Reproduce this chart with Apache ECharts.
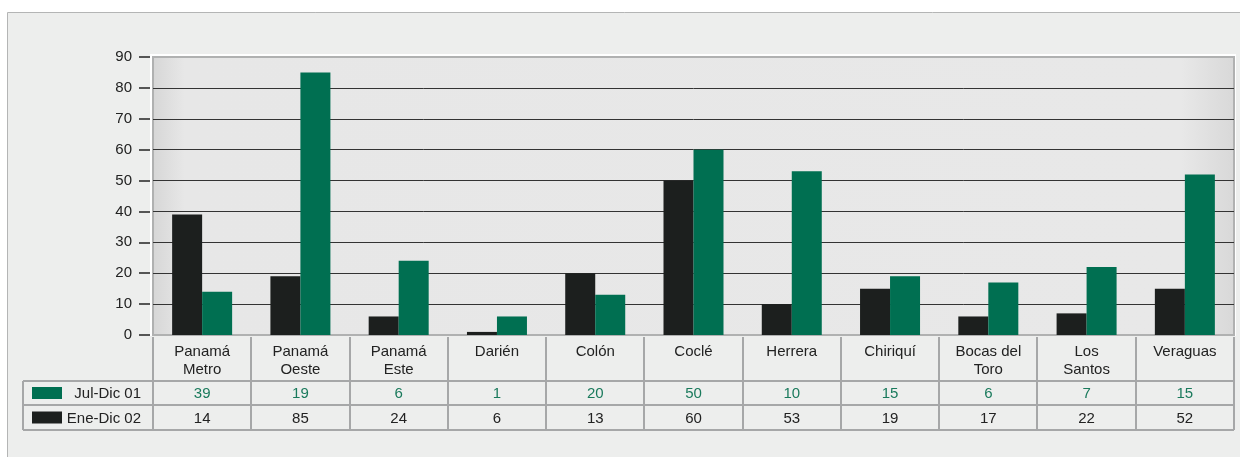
<!DOCTYPE html>
<html>
<head>
<meta charset="utf-8">
<script src="https://cdn.jsdelivr.net/npm/echarts@6/dist/echarts.min.js"></script>
<style>
  html, body { margin: 0; padding: 0; background: #ffffff; }
  #chart { width: 1240px; height: 457px; }
</style>
</head>
<body>
<div id="chart"></div>
<script>
// datos del cuadro
const categories = ["Panamá Metro", "Panamá Oeste", "Panamá Este", "Darién", "Colón", "Coclé", "Herrera", "Chiriquí", "Bocas del Toro", "Los Santos", "Veraguas"];
const seriesNames = ["Jul-Dic 01", "Ene-Dic 02"];
const julDic01 = [39, 19, 6, 1, 20, 50, 10, 15, 6, 7, 15];
const eneDic02 = [14, 85, 24, 6, 13, 60, 53, 19, 17, 22, 52];
const yTicks = [0, 10, 20, 30, 40, 50, 60, 70, 80, 90];

const GREEN = "#006f51";
const DARK = "#1c1f1e";
const LINE = "#a6a7a8";
const FONT = "Liberation Sans, Arial, sans-serif";

const W = 1240, H = 457;
const gridLeft = 153, gridRight = 6, gridTop = 57, gridBottom = 122;
const plotW = W - gridLeft - gridRight;
const plotBottom = H - gridBottom;
const cellW = plotW / categories.length;

// filas de la tabla
const rowTop = 381, rowMid = 405, rowBot = 430, legLeft = 23;

function wrap(name) {
  const i = name.lastIndexOf(" ");
  return i > 0 ? name.slice(0, i) + "\n" + name.slice(i + 1) : name;
}

let graphics = [];
// panel de fondo
graphics.push({
  type: "rect", z: -10, silent: true,
  shape: { x: 7.5, y: 12.5, width: W, height: H },
  style: { fill: "#edeeed", stroke: "#b4b5b5", lineWidth: 1 }
});
// marco blanco del área de trazado
graphics.push({
  type: "rect", z: -9, silent: true,
  shape: { x: gridLeft - 3, y: gridTop - 3, width: plotW + 5, height: plotBottom - gridTop + 4 },
  style: { fill: "#ffffff" }
});
// líneas horizontales
[rowTop, rowMid, rowBot].forEach((y) => {
  graphics.push({
    type: "line", silent: true,
    shape: { x1: legLeft, y1: y, x2: gridLeft + plotW, y2: y },
    style: { stroke: LINE, lineWidth: 2 }
  });
});
// líneas verticales
for (let i = 0; i <= categories.length; i++) {
  const x = Math.round(gridLeft + cellW * i);
  graphics.push({
    type: "line", silent: true,
    shape: { x1: x, y1: plotBottom + 2, x2: x, y2: rowBot },
    style: { stroke: LINE, lineWidth: 2 }
  });
}
graphics.push({
  type: "line", silent: true,
  shape: { x1: legLeft, y1: rowTop, x2: legLeft, y2: rowBot },
  style: { stroke: LINE, lineWidth: 2 }
});
// leyenda dentro de la tabla
[GREEN, DARK].forEach((c, k) => {
  const yc = k === 0 ? (rowTop + rowMid) / 2 : (rowMid + rowBot) / 2;
  graphics.push({
    type: "rect", silent: true,
    shape: { x: 32, y: yc - 6, width: 30, height: 12 },
    style: { fill: c }
  });
  graphics.push({
    type: "text", silent: true,
    x: 141, y: yc + 1,
    style: { text: seriesNames[k], fill: "#222", font: "15px " + FONT, align: "right", verticalAlign: "middle" }
  });
});
// valores
[julDic01, eneDic02].forEach((arr, k) => {
  const yc = k === 0 ? (rowTop + rowMid) / 2 + 1 : (rowMid + rowBot) / 2 + 1;
  arr.forEach((v, i) => {
    graphics.push({
      type: "text", silent: true,
      x: gridLeft + cellW * (i + 0.5), y: yc,
      style: { text: String(v), fill: k === 0 ? "#1a7a5c" : "#222", font: "15px " + FONT, align: "center", verticalAlign: "middle" }
    });
  });
});

const chart = echarts.init(document.getElementById("chart"));
chart.setOption({
  animation: false,
  backgroundColor: "#ffffff",
  grid: {
    left: gridLeft, right: gridRight, top: gridTop, bottom: gridBottom,
    show: true,
    borderColor: "#b0b1b1",
    borderWidth: 2,
    backgroundColor: new echarts.graphic.LinearGradient(0, 0, 1, 0, [
      { offset: 0, color: "#d6d6d6" },
      { offset: 0.03, color: "#e7e7e7" },
      { offset: 0.95, color: "#e8e8e8" },
      { offset: 1, color: "#d8d8d8" }
    ])
  },
  xAxis: {
    type: "category",
    data: categories,
    axisLine: { show: false },
    axisTick: { show: false },
    axisLabel: {
      interval: 0, margin: 8,
      color: "#222", fontFamily: FONT, fontSize: 15, lineHeight: 18,
      formatter: wrap
    }
  },
  yAxis: {
    type: "value",
    min: yTicks[0],
    max: yTicks[yTicks.length - 1],
    interval: 10,
    offset: 3,
    axisLine: { show: false },
    axisTick: { show: true, length: 11, lineStyle: { color: "#555", width: 2 } },
    axisLabel: { margin: 18, color: "#222", fontFamily: FONT, fontSize: 15 },
    splitLine: { show: true, showMinLine: false, showMaxLine: false, lineStyle: { color: "#333", width: 1 } }
  },
  series: [
    { name: seriesNames[0], type: "bar", data: julDic01, barWidth: 30, barGap: "0%", itemStyle: { color: DARK } },
    { name: seriesNames[1], type: "bar", data: eneDic02, barWidth: 30, barGap: "0%", itemStyle: { color: GREEN } }
  ],
  graphic: graphics
});
</script>
</body>
</html>
